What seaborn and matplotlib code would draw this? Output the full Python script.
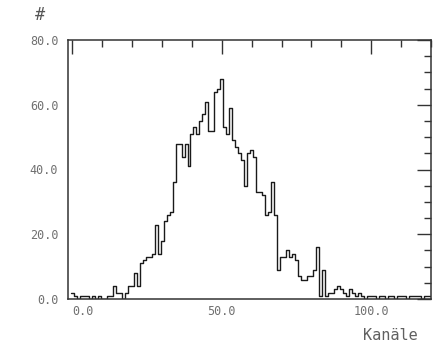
import numpy as np
import pandas as pd
import seaborn as sns
import matplotlib
matplotlib.use("Agg")
import matplotlib.pyplot as plt
from matplotlib.ticker import FixedLocator, MultipleLocator

# ---- data ----
channels = list(range(120))
counts = [
    2, 1, 0, 1, 1, 1, 0, 1, 0, 1,      # 0-9
    0, 0, 1, 1, 4, 2, 2, 0, 2, 4,      # 10-19
    4, 8, 4, 11, 12, 13, 13, 14, 23, 14,   # 20-29
    18, 24, 26, 27, 36, 48, 48, 44, 48, 41,  # 30-39
    51, 53, 51, 55, 57, 61, 52, 52, 64, 65,  # 40-49
    68, 53, 51, 59, 49, 47, 45, 43, 35, 45,  # 50-59
    46, 44, 33, 33, 32, 26, 27, 36, 26, 9,   # 60-69
    13, 13, 15, 13, 14, 12, 7, 6, 6, 7,      # 70-79
    7, 9, 16, 1, 9, 1, 2, 2, 3, 4,           # 80-89
    3, 2, 1, 3, 2, 1, 2, 1, 0, 1,            # 90-99
    1, 1, 0, 1, 1, 0, 1, 1, 0, 1,            # 100-109
    1, 1, 0, 1, 1, 1, 1, 0, 1, 1,            # 110-119
]
x_ticks = [0, 50, 100]
x_tick_labels = ["0.0", "50.0", "100.0"]
y_ticks = [0, 20, 40, 60, 80]
y_tick_labels = ["0.0", "20.0", "40.0", "60.0", "80.0"]
y_title = "#"
x_title = "Kanäle"

sns.set_theme(style="white")
plt.rcParams['font.family'] = ['DejaVu Sans Mono', 'DejaVu Sans']

fig = plt.figure(figsize=(4.41, 3.52), dpi=100)
ax = fig.add_axes([68 / 441, 1 - 299 / 352, (431 - 68) / 441, (299 - 40) / 352])

df = pd.DataFrame({"Kanal": channels, "N": counts})
sns.histplot(data=df, x="Kanal", weights="N", discrete=True, element="step",
             fill=False, color="#1a1a1a", linewidth=1.0, ax=ax)

ax.set_xlim(-1.5, 120)
ax.set_ylim(0, 80)
ax.set_xlabel("")
ax.set_ylabel("")

ax.xaxis.set_major_locator(FixedLocator(x_ticks))
ax.set_xticklabels(x_tick_labels)
ax.xaxis.set_minor_locator(MultipleLocator(10))
ax.yaxis.set_major_locator(FixedLocator(y_ticks))
ax.set_yticklabels(y_tick_labels)
ax.yaxis.set_minor_locator(MultipleLocator(5))

ax.tick_params(which="both", direction="in", top=True, right=True,
               color="#333333", width=1.0, labelcolor="#707070", labelsize=8.5)
ax.tick_params(which="major", length=10)
ax.tick_params(which="minor", length=5)
ax.tick_params(axis="x", pad=4)
ax.tick_params(axis="y", pad=7)

# first x label sits to the right of its tick
xl = ax.get_xticklabels()
xl[0].set_ha("left")

for s in ax.spines.values():
    s.set_color("#333333")
    s.set_linewidth(1.1)

fig.text(40 / 441, 1 - 15 / 352, y_title, ha="center", va="center",
         fontsize=12, color="#555555")
fig.text(390 / 441, 1 - 335 / 352, x_title, ha="center", va="center",
         fontsize=11, color="#606060")

fig.savefig("out.png", dpi=100)
